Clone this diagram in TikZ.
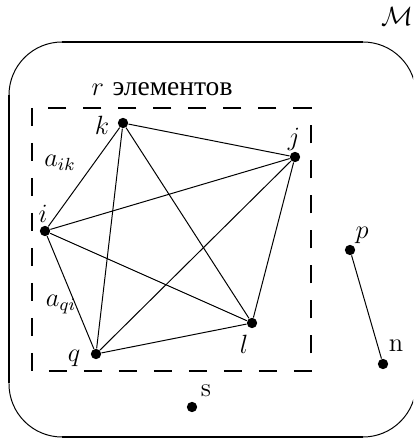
\documentclass[tikz,border=0pt]{standalone}
\usepackage{fontspec}
\newfontfamily\cyrfont{Liberation Serif}
\begin{document}
\begin{tikzpicture}[x=0.4545pt,y=-0.4545pt,
  dot/.style={circle,fill=black,inner sep=0pt,minimum size=4.7pt},
  edge/.style={line width=0.45pt},
  thickborder/.style={line width=1.15pt},
  thinborder/.style={line width=0.45pt},
  dashbox/.style={line width=0.9pt,dash pattern=on 8.2pt off 7.7pt},
  lbl/.style={inner sep=0pt,font=\large}]
\useasboundingbox (0,0) rectangle (413,441);
\clip (0,0) rectangle (413,441);
% outer set M
\draw[thinborder, rounded corners=24.1pt] (9,42) rectangle (416,437);
\draw[thickborder] (62,42) -- (363,42);
\draw[thickborder] (62,437) -- (363,437);
\draw[thickborder] (9,95) -- (9,383);
\node[lbl] (M) at (397,16) {$\mathcal{M}$};
% dashed box
\draw[dashbox] (32,108) rectangle (311,371);
\node[lbl] (r) at (162,89) {$r$ {\cyrfont\fontsize{12.5pt}{14pt}\selectfont элементов}};
% vertices
\node[dot] (k) at (123,123) {};
\node[dot] (j) at (295,157) {};
\node[dot] (i) at (45,231) {};
\node[dot] (p) at (350,250) {};
\node[dot] (l) at (252,323) {};
\node[dot] (q) at (96,354) {};
\node[dot] (n) at (383,364) {};
\node[dot] (s) at (192,407) {};
% labels
\node[lbl] (kl) at (102,125) {$k$};
\node[lbl] (jl) at (294,139) {$j$};
\node[lbl] (il) at (43,214) {$i$};
\node[lbl] (pl) at (362,235) {$p$};
\node[lbl] (ll) at (244,344) {$l$};
\node[lbl] (ql) at (74,358) {$q$};
\node[lbl] (nl) at (396,346) {n};
\node[lbl] (sl) at (206,391) {s};
\node[lbl] (aik) at (60,163) {$a_{ik}$};
\node[lbl] (aqi) at (61,305) {$a_{qi}$};
% edges
\draw[edge] (k) -- (j);
\draw[edge] (k) -- (i);
\draw[edge] (k) -- (q);
\draw[edge] (k) -- (l);
\draw[edge] (j) -- (i);
\draw[edge] (j) -- (q);
\draw[edge] (j) -- (l);
\draw[edge] (i) -- (l);
\draw[edge] (i) -- (q);
\draw[edge] (q) -- (l);
\draw[edge] (p) -- (n);
\end{tikzpicture}
\end{document}
